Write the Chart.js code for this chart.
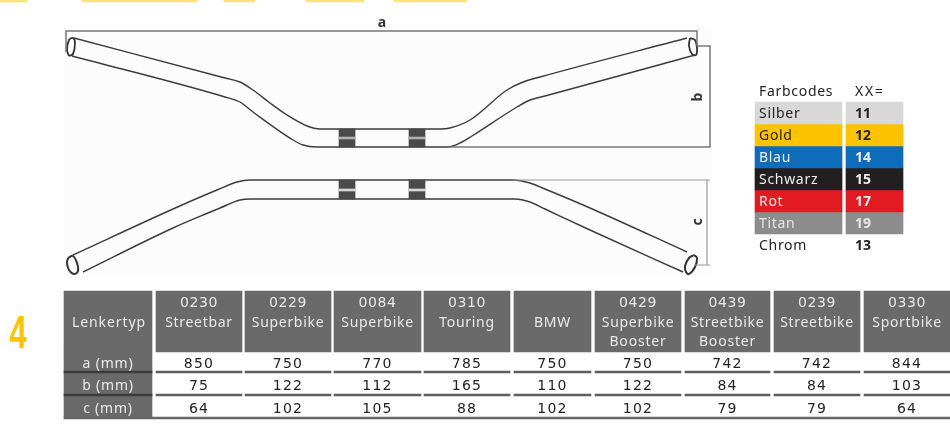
<!DOCTYPE html>
<html>
<head>
<meta charset="utf-8">
<style>
  html, body { margin: 0; padding: 0; background: #fff; }
  #wrap { width: 950px; height: 425px; }
</style>
<script src="https://cdn.jsdelivr.net/npm/chart.js@4/dist/chart.umd.min.js"></script>
</head>
<body>
<div id="wrap"><canvas id="chart" width="950" height="425"></canvas></div>
<script>
// table contents
const lenkerCodes = ["0230", "0229", "0084", "0310", "", "0429", "0439", "0239", "0330"];
const lenkerNames = ["Streetbar", "Superbike", "Superbike", "Touring", "BMW", "Superbike", "Streetbike", "Streetbike", "Sportbike"];
const lenkerExtra = ["", "", "", "", "", "Booster", "Booster", "", ""];
const rowLabels = ["a (mm)", "b (mm)", "c (mm)"];
const aMm = [850, 750, 770, 785, 750, 750, 742, 742, 844];
const bMm = [75, 122, 112, 165, 110, 122, 84, 84, 103];
const cMm = [64, 102, 105, 88, 102, 102, 79, 79, 64];

// colour code legend
const farbNames = ["Silber", "Gold", "Blau", "Schwarz", "Rot", "Titan", "Chrom"];
const farbCodes = [11, 12, 14, 15, 17, 19, 13];
const farbFills = ["#d8d8d8", "#fdc300", "#0f6cbb", "#231f20", "#e31a22", "#8c8c8c"];
const farbInk = ["#222", "#222", "#eee", "#eee", "#eee", "#e6e6e6", "#222"];

// handlebar outlines
const topUpperX = [74, 225, 240, 253, 270, 287, 307, 320, 335, 440, 450, 470, 507, 523, 540, 687];
const topUpperY = [38, 78, 82, 90, 103, 115, 126, 129, 129, 129, 128, 120, 90, 82, 77, 38];
const topLowerX = [72, 225, 240, 253, 293, 303, 317, 330, 436, 448, 462, 472, 517, 530, 545, 695];
const topLowerY = [56, 97, 102, 112, 140, 145, 147, 147, 147, 147, 142, 136, 107, 100, 96, 55];
const lowUpperX = [73, 173, 205, 217, 237, 250, 265, 500, 513, 530, 545, 590, 687];
const lowUpperY = [255, 209, 195, 190, 182, 180, 180, 180, 180, 183, 189, 208, 252];
const lowLowerX = [83, 173, 208, 220, 240, 250, 265, 500, 515, 530, 545, 590, 683];
const lowLowerY = [272, 228, 213, 208, 200, 199, 199, 199, 199, 202, 209, 230, 272];

// bar ends
const endTopLeftX = [69, 67, 69, 73, 75, 73, 69];
const endTopLeftY = [56, 50, 40, 38, 43, 54, 56];
const endTopRightX = [690, 695, 697, 696, 692, 689, 690];
const endTopRightY = [38, 40, 48, 55, 54, 46, 38];
const endLowLeftX = [68, 73, 77, 78, 74, 69, 67, 68];
const endLowLeftY = [258, 256, 263, 271, 274, 270, 263, 258];
const endLowRightX = [694, 697, 695, 689, 686, 685, 689, 694];
const endLowRightY = [255, 258, 267, 274, 272, 266, 258, 255];

// dimension lines
const dimAX = [66, 66, 697, 697];
const dimAY = [52, 31, 31, 46];
const dimBX = [698, 710, 710, 450];
const dimBY = [46, 46, 147, 147];
const dimCX = [513, 710, 707, 707, 695, 710];
const dimCY = [180, 180, 180, 265, 265, 265];

// layout of the table
const columnEdges = [[64, 152], [156, 242], [245, 331], [334, 421], [424, 510], [514, 591], [595, 681], [685, 770], [774, 860], [864, 950]];
const headerTop = 291, headerBottom = 352;
const rowBottoms = [372, 395, 418];
const rowCentres = [363, 385, 408];
const farbTops = [102, 124, 146, 168, 190, 212, 234];
const clampSpans = [[339, 355], [409, 425]];
const strokeSpans = [[0, 27], [82, 197], [224, 255], [306, 364], [394, 467]];

const FONT = '"Noto Sans", sans-serif';
const WIDE = '"DejaVu Sans", sans-serif';

// a horizontal floating bar per span, all in one row
function rowBars(spans, top, bottom, color, order) {
  return {
    type: "bar",
    data: spans.map(s => ({ x: s, y: (top + bottom) / 2 })),
    barThickness: bottom - top,
    backgroundColor: color,
    grouped: false,
    order: order
  };
}

function outline(xs, ys, color, width, tension) {
  return {
    type: "scatter",
    data: xs.map((x, i) => ({ x: x, y: ys[i] })),
    showLine: true,
    borderColor: color,
    borderWidth: width,
    tension: tension || 0,
    pointRadius: 0,
    order: 3
  };
}

// the tube edges run left to right, so they can be smoothed
function tube(xs, ys) {
  const set = outline(xs, ys, "#3c3c3c", 1.4);
  set.cubicInterpolationMode = "monotone";
  return set;
}

const datasets = [
  rowBars(strokeSpans, 0, 2, "#fbe27a", 1),
  rowBars([[64, 712]], 28, 276, "#fcfcfc", 9),
  outline(dimAX, dimAY, "#777", 1.5),
  outline(dimBX, dimBY, "#777", 1.5),
  outline(dimCX, dimCY, "#999", 1.2),
  tube(topUpperX, topUpperY),
  tube(topLowerX, topLowerY),
  tube(lowUpperX, lowUpperY),
  tube(lowLowerX, lowLowerY),
  outline(endTopLeftX, endTopLeftY, "#333", 1.8, 0.4),
  outline(endTopRightX, endTopRightY, "#333", 1.8, 0.4),
  outline(endLowLeftX, endLowLeftY, "#333", 2, 0.4),
  outline(endLowRightX, endLowRightY, "#333", 2, 0.4),
  // clamps
  rowBars(clampSpans, 129, 147, "#4a4a4a", 2),
  rowBars(clampSpans, 137, 139, "#b0b0b0", 1),
  rowBars(clampSpans, 180, 199, "#4a4a4a", 2),
  rowBars(clampSpans, 189, 191, "#d8d8d8", 1),
  // table
  rowBars(columnEdges, headerTop, headerBottom, "#6a6a6a", 5),
  rowBars(columnEdges.slice(0, 1), headerBottom, rowBottoms[2], "#6a6a6a", 5),
  rowBars(columnEdges.slice(1), rowBottoms[0] - 1, rowBottoms[0] + 1, "#5e5e5e", 4),
  rowBars(columnEdges.slice(1), rowBottoms[1] - 1, rowBottoms[1] + 1, "#5e5e5e", 4),
  rowBars(columnEdges.slice(0, 1), rowBottoms[0] - 1, rowBottoms[0] + 1, "#3c3c3c", 4),
  rowBars(columnEdges.slice(0, 1), rowBottoms[1] - 1, rowBottoms[1] + 1, "#3c3c3c", 4),
  rowBars([[64, 950]], rowBottoms[2] - 1, rowBottoms[2] + 1, "#666", 4)
];

// colour legend cells
farbFills.forEach((fill, i) => {
  datasets.push(rowBars([[755, 842], [846, 903]], farbTops[i], farbTops[i + 1], fill, 5));
});

function tableText(chart) {
  const ctx = chart.ctx, sx = chart.scales.x, sy = chart.scales.y;

  function put(text, x, y, font, color, align, spacing, rotation, squeeze) {
    ctx.save();
    ctx.font = font;
    ctx.fillStyle = color;
    ctx.textAlign = align || "center";
    ctx.textBaseline = "middle";
    ctx.letterSpacing = spacing || "0px";
    ctx.translate(sx.getPixelForValue(x), sy.getPixelForValue(y));
    if (rotation) ctx.rotate(rotation);
    if (squeeze) ctx.scale(squeeze, 1);
    ctx.fillText(text, 0, 0);
    ctx.restore();
  }

  const headFont = "14px " + FONT, headInk = "#e9e9e9", codeFont = "14px " + WIDE;
  put("Lenkertyp", 109, 323, headFont, headInk, "center", "0.9px");
  rowLabels.forEach((label, i) => put(label, 108, rowCentres[i] + 1, headFont, headInk, "center", "0.8px"));

  const valueRows = [aMm, bMm, cMm];
  lenkerNames.forEach((name, i) => {
    const cx = (columnEdges[i + 1][0] + columnEdges[i + 1][1]) / 2;
    put(lenkerCodes[i], cx, 303, codeFont, headInk, "center", "0.6px");
    put(name, cx, 323, headFont, headInk, "center", "0.7px");
    put(lenkerExtra[i], cx, 342, headFont, headInk, "center", "0.8px");
    valueRows.forEach((values, r) => put(String(values[i]), cx, rowCentres[r] + 1, "14px " + WIDE, "#222", "center", "1.2px"));
  });

  // colour legend
  put("Farbcodes", 759, 92, "14px " + FONT, "#222", "left", "0.7px");
  put("XX=", 855, 92, "14px " + FONT, "#222", "left", "1.7px");
  farbNames.forEach((name, i) => {
    const y = (i < 6 ? (farbTops[i] + farbTops[i + 1]) / 2 : 245) + 1;
    put(name, 759, y, "14px " + FONT, farbInk[i], "left", "0.7px");
    put(String(farbCodes[i]), 855, y, "bold 14px " + FONT, farbInk[i], "left", "0px");
  });

  // dimension letters
  put("a", 382, 23, "bold 14px " + FONT, "#333");
  put("b", 698, 97, "bold 14px " + FONT, "#333", "center", "0px", -Math.PI / 2);
  put("c", 698, 222, "bold 14px " + FONT, "#333", "center", "0px", -Math.PI / 2);

  // the big page number
  put("4", 18, 335, 'bold 46px "Liberation Sans", sans-serif', "#fdc300", "center", "0px", 0, 0.68);
}

new Chart(document.getElementById("chart"), {
  type: "scatter",
  data: { datasets: datasets },
  options: {
    responsive: false,
    animation: false,
    layout: { padding: 0 },
    datasets: { bar: { indexAxis: "y" } },
    plugins: { legend: { display: false }, tooltip: { enabled: false } },
    scales: {
      x: { type: "linear", min: 0, max: 950, display: false, offset: false },
      y: { type: "linear", min: 0, max: 425, reverse: true, display: false, offset: false }
    }
  },
  plugins: [{ id: "tableText", afterDatasetsDraw: tableText }]
});
</script>
</body>
</html>
